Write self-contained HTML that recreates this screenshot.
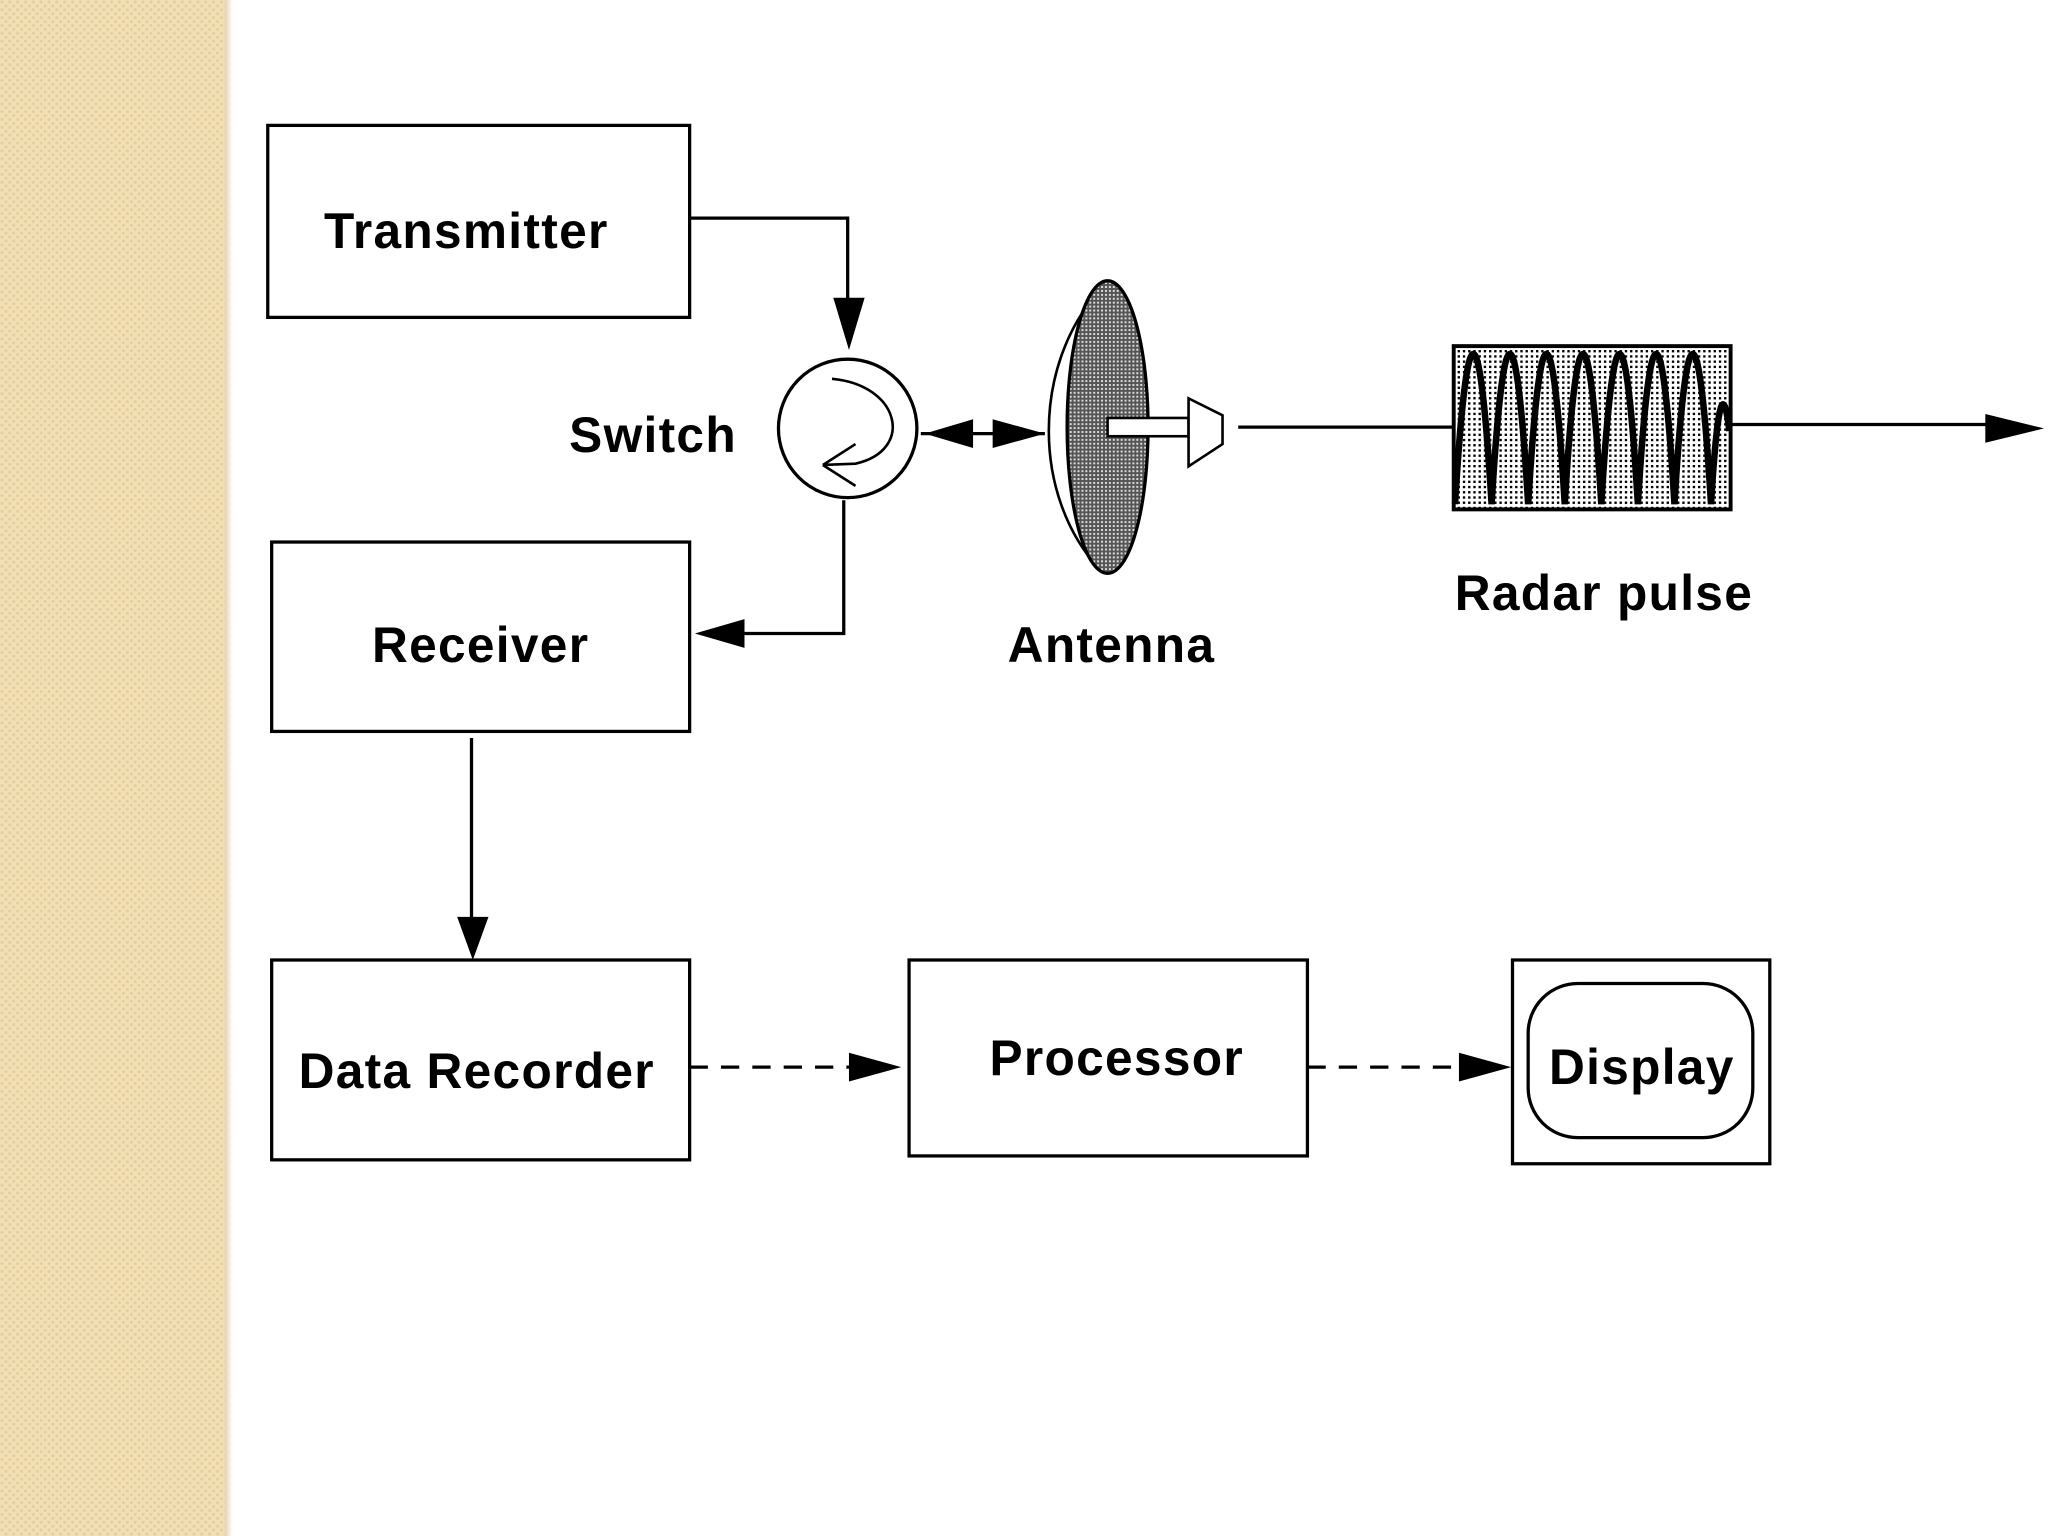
<!DOCTYPE html>
<html><head><style>
html,body{margin:0;padding:0;background:#fff;width:2048px;height:1536px;overflow:hidden}
svg{display:block}
text{font-family:"Liberation Sans",Arial,sans-serif;font-weight:bold;fill:#000;letter-spacing:1px}
</style></head><body>
<svg width="2048" height="1536" viewBox="0 0 1568 1176" preserveAspectRatio="none">
<defs>
<pattern id="bg" width="6" height="6" patternUnits="userSpaceOnUse">
<rect width="6" height="6" fill="#f1dfb6"/><circle cx="1.5" cy="1.5" r="1.1" fill="#e6cc98"/><circle cx="4.5" cy="4.5" r="1.1" fill="#e6cc98"/>
</pattern>
<pattern id="dk" width="3" height="3" patternUnits="userSpaceOnUse">
<rect width="3" height="3" fill="#555"/><rect width="1.5" height="1.5" fill="#ddd"/>
</pattern>
<pattern id="lt" width="4" height="4" patternUnits="userSpaceOnUse">
<rect width="4" height="4" fill="#fff"/><rect width="1.8" height="1.8" fill="#000"/>
</pattern>
<linearGradient id="sh" x1="0" x2="1"><stop offset="0" stop-color="#e0cfae"/><stop offset="1" stop-color="#fff"/></linearGradient>
</defs>
<rect x="0" y="0" width="172" height="1176" fill="url(#bg)"/>
<rect x="172" y="0" width="6" height="1176" fill="url(#sh)"/>
<g fill="none" stroke="#000" stroke-width="2.5">
<rect x="205" y="96" width="323" height="147"/>
<rect x="208" y="415" width="320" height="145"/>
<rect x="208" y="735" width="320" height="153"/>
<rect x="696" y="735" width="305" height="150"/>
<rect x="1158" y="735" width="197" height="156"/>
<rect x="1170" y="753" width="172" height="118" rx="38"/>
<polyline points="528,167 649,167 649,250"/>
<circle cx="649" cy="328" r="53"/>
<path d="M637,290 C690,295 700,345 655,355 L630,356 M630,356 L655,340 M630,356 L655,372" stroke-width="2"/>
<polyline points="646,383 646,485 545,485"/>
<line x1="361" y1="565" x2="361" y2="712"/>
<line x1="528" y1="817" x2="665" y2="817" stroke-dasharray="14,10"/>
<line x1="1001" y1="817" x2="1135" y2="817" stroke-dasharray="14,10"/>
<line x1="705" y1="332" x2="800" y2="332"/>
<line x1="948" y1="327" x2="1113" y2="327"/>
<line x1="1325" y1="325" x2="1530" y2="325"/>
<path d="M842,222 C790,280 790,380 842,436" stroke-width="2"/>
</g>
<g fill="#000">
<polygon points="638,228 662,228 650,268"/>
<polygon points="532,485 570,474 570,496"/>
<polygon points="350,702 374,702 362,735"/>
<polygon points="690,817 650,806 650,828"/>
<polygon points="1157,817 1117,806 1117,828"/>
<polygon points="1565,328 1520,317 1520,339"/>
<polygon points="708,332 745,321 745,343"/>
<polygon points="800,332 760,321 760,343"/>
</g>
<ellipse cx="848" cy="327" rx="31" ry="112" fill="url(#dk)" stroke="#000" stroke-width="2.5"/>
<rect x="848" y="320" width="62" height="14" fill="#fff" stroke="#000" stroke-width="2"/>
<polygon points="910,305 936,318 936,340 910,357" fill="#fff" stroke="#000" stroke-width="2"/>
<rect x="1113" y="265" width="212" height="125" fill="url(#lt)" stroke="#000" stroke-width="3"/>
<path d="M1114,386 Q1128,156 1142,386 Q1156,156 1170,386 Q1184,156 1198,386 Q1212,156 1226,386 Q1240,156 1254,386 Q1268,156 1282,386 Q1296,156 1310,386 Q1317,270 1324,330" fill="none" stroke="#000" stroke-width="5"/>
<text x="357" y="190" font-size="38" text-anchor="middle">Transmitter</text>
<text x="500" y="346" font-size="38" text-anchor="middle">Switch</text>
<text x="368" y="507" font-size="38" text-anchor="middle">Receiver</text>
<text x="365" y="833" font-size="38" text-anchor="middle">Data Recorder</text>
<text x="855" y="823" font-size="38" text-anchor="middle">Processor</text>
<text x="1257" y="830" font-size="38" text-anchor="middle">Display</text>
<text x="851" y="507" font-size="38" text-anchor="middle">Antenna</text>
<text x="1228" y="467" font-size="38" text-anchor="middle">Radar pulse</text>
</svg>
</body></html>
